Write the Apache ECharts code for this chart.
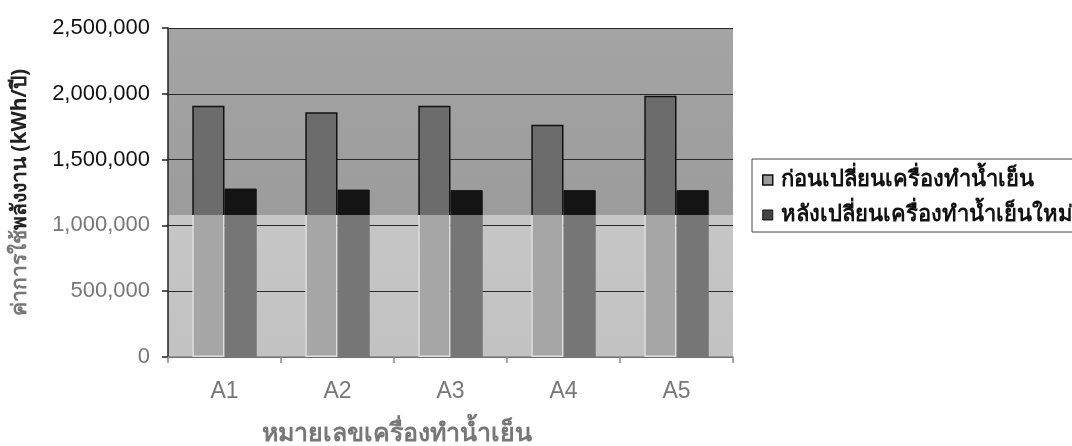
<!DOCTYPE html>
<html>
<head>
<meta charset="utf-8">
<script src="https://cdn.jsdelivr.net/npm/echarts@6/dist/echarts.min.js"></script>
<style>
html,body{margin:0;padding:0;background:#fff;}
#chart{width:1072px;height:446px;}
</style>
</head>
<body>
<div id="chart"></div>
<script>
const categories = ['A1', 'A2', 'A3', 'A4', 'A5'];
const seriesNames = ['ก่อนเปลี่ยนเครื่องทำน้ำเย็น', 'หลังเปลี่ยนเครื่องทำน้ำเย็นใหม่'];
const beforeValues = [1910000, 1860000, 1910000, 1765000, 1985000];
const afterValues = [1280000, 1272000, 1268000, 1268000, 1268000];
const yTicks = [0, 500000, 1000000, 1500000, 2000000, 2500000];
const xAxisTitle = 'หมายเลขเครื่องทำน้ำเย็น';
const yAxisTitleA = 'ค่าการใช้';
const yAxisTitleB = 'พลังงาน (kWh/ปี)';

const chart = echarts.init(document.getElementById('chart'));
const plotTop = 28, plotBottom = 357, cutY = 215;
const stop = (cutY - plotTop) / (plotBottom - plotTop);
function split(upper, lower) {
  return new echarts.graphic.LinearGradient(0, plotTop, 0, plotBottom, [
    {offset: 0, color: upper}, {offset: stop, color: upper},
    {offset: stop, color: lower}, {offset: 1, color: lower}
  ], true);
}
const font = "'Liberation Sans', Arial, sans-serif";
const thaiFont = "'Noto Sans', 'DejaVu Sans', sans-serif";

chart.setOption({
  animation: false,
  grid: {
    left: 168, right: 339, top: plotTop, bottom: 446 - plotBottom,
    containLabel: false,
    outerBoundsMode: 'none',
    show: true, borderWidth: 0,
    backgroundColor: new echarts.graphic.LinearGradient(0, 0, 0, 1, [
      {offset: 0, color: '#a4a4a4'}, {offset: stop, color: '#9c9c9c'},
      {offset: stop, color: '#c6c6c6'}, {offset: 1, color: '#c2c2c2'}
    ])
  },
  legend: {
    orient: 'vertical',
    left: 752, top: 159,
    padding: [7, 60, 3, 10],
    itemGap: 7,
    itemWidth: 10, itemHeight: 10,
    borderColor: '#444', borderWidth: 1,
    backgroundColor: '#fff',
    textStyle: {fontFamily: thaiFont, fontSize: 22, lineHeight: 28, fontWeight: 'bold', color: '#111', padding: [0, 0, 0, 3]},
    data: [
      {name: seriesNames[0], icon: 'rect', itemStyle: {color: '#9a9a9a', borderColor: '#111', borderWidth: 1.5}},
      {name: seriesNames[1], icon: 'rect', itemStyle: {color: '#444', borderColor: '#111', borderWidth: 1}}
    ]
  },
  xAxis: {
    type: 'category',
    data: categories,
    axisLine: {lineStyle: {color: '#888', width: 1.5}},
    axisTick: {show: true, length: 6, lineStyle: {color: '#888', width: 1.5}},
    axisLabel: {fontFamily: font, fontSize: 23, color: '#777', margin: 23},
    name: xAxisTitle,
    nameLocation: 'middle',
    nameGap: 64,
    nameTextStyle: {fontFamily: thaiFont, fontSize: 25, fontWeight: 'bold', color: '#777', padding: [0, 108, 0, 0]}
  },
  yAxis: {
    type: 'value',
    min: 0, max: 2500000, interval: 500000,
    axisLine: {show: true, lineStyle: {color: '#222', width: 1.5}},
    axisTick: {show: true, length: 6, lineStyle: {color: '#222', width: 1.5}},
    splitLine: {show: true, lineStyle: {color: '#2a2a2a', width: 1.2}},
    axisLabel: {
      fontFamily: font, fontSize: 22, margin: 18,
      formatter: v => echarts.format.addCommas(v),
      color: v => (v >= 1500000 ? '#111' : '#777')
    },
    name: '{a|' + yAxisTitleA + '}{b|' + yAxisTitleB + '}',
    nameLocation: 'middle',
    nameGap: 137,
    nameRotate: 90,
    nameTextStyle: {
      rich: {
        a: {fontFamily: thaiFont, fontSize: 21, fontWeight: 'bold', color: '#777'},
        b: {fontFamily: thaiFont, fontSize: 21, fontWeight: 'bold', color: '#222'}
      }
    }
  },
  series: [
    {
      name: seriesNames[0], type: 'bar', data: beforeValues,
      barGap: '0%', barCategoryGap: '43%',
      itemStyle: {color: split('#6c6c6c', '#a6a6a6'), borderColor: split('#111', '#ddd'), borderWidth: 1.5}
    },
    {
      name: seriesNames[1], type: 'bar', data: afterValues,
      barGap: '0%', barCategoryGap: '43%',
      itemStyle: {color: split('#141414', '#767676'), borderColor: split('#111', '#777'), borderWidth: 1}
    }
  ]
});
</script>
</body>
</html>
